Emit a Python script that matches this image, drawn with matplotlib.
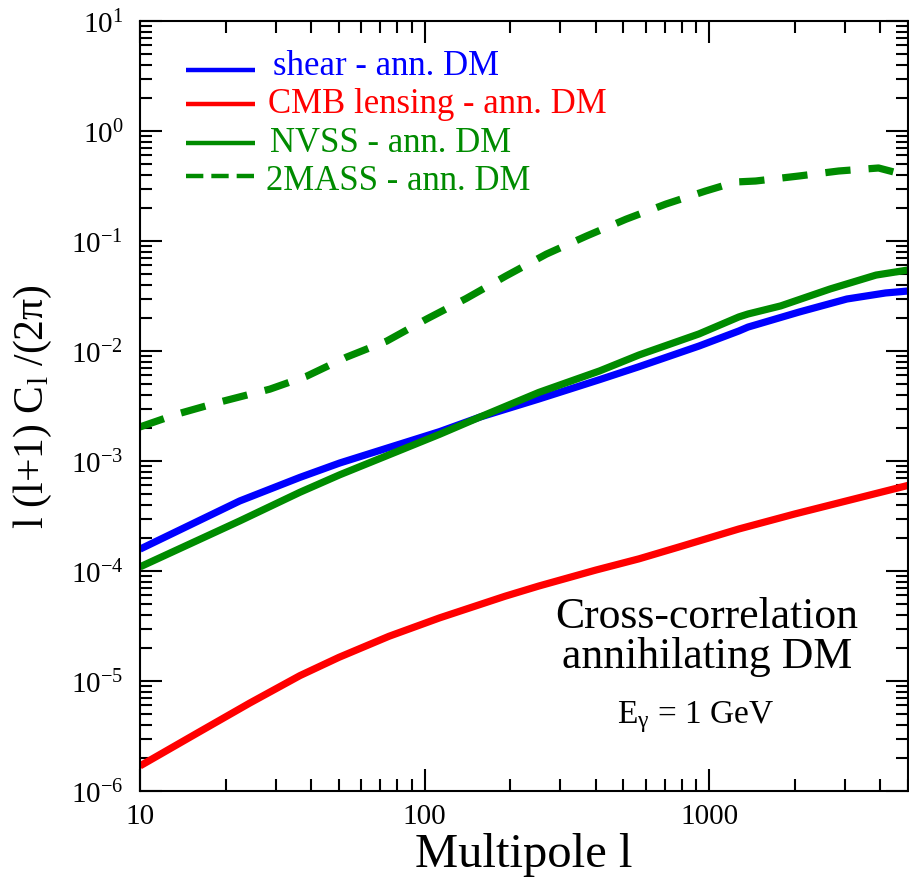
import math
import matplotlib
matplotlib.use("Agg")
import matplotlib.pyplot as plt
from matplotlib.lines import Line2D
from matplotlib.ticker import LogLocator, FixedLocator, FuncFormatter, NullFormatter

plt.rcParams['font.family'] = ['Liberation Serif', 'DejaVu Serif']
plt.rcParams['mathtext.fontset'] = 'custom'
plt.rcParams['mathtext.rm'] = 'Liberation Serif'
plt.rcParams['mathtext.it'] = 'Liberation Serif:italic'
plt.rcParams['mathtext.bf'] = 'Liberation Serif:bold'
plt.rcParams['axes.unicode_minus'] = False

# Cross-correlation angular power spectra, l(l+1)C_l/(2pi)
ell_shear = [10, 22.4, 36.5, 50.4, 113, 156, 252, 413, 567, 922, 1272, 1370, 2071, 3050, 4170, 5000]
cl_shear = [1.58e-4, 4.33e-4, 7.1e-4, 9.6e-4, 1.85e-3, 2.5e-3, 3.66e-3, 5.5e-3, 7.2e-3,
            1.11e-2, 1.52e-2, 1.65e-2, 2.26e-2, 2.97e-2, 3.37e-2, 3.51e-2]

ell_cmb = [10, 16.2, 24.3, 36.5, 50, 75, 113, 192, 252, 400, 567, 800, 1272, 2000, 3000, 5000]
cl_cmb = [1.69e-6, 3.46e-6, 6.3e-6, 1.12e-5, 1.64e-5, 2.55e-5, 3.75e-5, 5.9e-5, 7.3e-5,
          1.02e-4, 1.29e-4, 1.68e-4, 2.41e-4, 3.3e-4, 4.3e-4, 6.0e-4]

ell_nvss = [10, 22.4, 36.5, 50.4, 113, 156, 252, 413, 567, 922, 1272, 1370, 1785, 2660, 3860, 5000]
cl_nvss = [1.09e-4, 2.85e-4, 5.2e-4, 7.5e-4, 1.75e-3, 2.5e-3, 4.2e-3, 6.6e-3, 9.2e-3,
           1.43e-2, 2.04e-2, 2.17e-2, 2.57e-2, 3.66e-2, 4.9e-2, 5.45e-2]

ell_2mass = [10, 13.5, 19.1, 28.6, 38.5, 53.2, 73.6, 101.6, 140, 193, 268, 371, 511, 706,
             973, 1240, 1457, 2071, 2855, 3940, 4520, 5000]
cl_2mass = [2.04e-3, 2.67e-3, 3.44e-3, 4.5e-3, 5.9e-3, 8.8e-3, 1.23e-2, 1.95e-2, 3.0e-2,
            4.8e-2, 7.6e-2, 0.111, 0.158, 0.217, 0.285, 0.344, 0.351, 0.39, 0.433, 0.461,
            0.42, 0.38]

labels = ['shear - ann. DM', 'CMB lensing - ann. DM', 'NVSS - ann. DM', '2MASS - ann. DM']
x_ticks = [10, 100, 1000]
y_ticks = [1e-6, 1e-5, 1e-4, 1e-3, 1e-2, 1e-1, 1e0, 1e1]

BLUE, RED, GREEN = '#0000ff', '#ff0000', '#008b00'
LW = 5.2
DASH = (3.5, 2.5)

W, H = 909, 879
fig = plt.figure(figsize=(W / 100, H / 100), dpi=100)
ax = fig.add_axes([140 / W, 87 / H, 768 / W, 770 / H])

ax.plot(ell_shear, cl_shear, color=BLUE, lw=LW, solid_capstyle='butt', solid_joinstyle='round')
ax.plot(ell_cmb, cl_cmb, color=RED, lw=LW, solid_capstyle='butt', solid_joinstyle='round')
ax.plot(ell_nvss, cl_nvss, color=GREEN, lw=LW, solid_capstyle='butt', solid_joinstyle='round')
ax.plot(ell_2mass, cl_2mass, color=GREEN, lw=LW, dashes=DASH, dash_capstyle='butt')

ax.set_xscale('log')
ax.set_yscale('log')
ax.set_xlim(10, 5000)
ax.set_ylim(1e-6, 10)

ax.xaxis.set_major_locator(FixedLocator(x_ticks))
ax.xaxis.set_minor_locator(LogLocator(base=10, subs=range(2, 10), numticks=30))
ax.yaxis.set_major_locator(FixedLocator(y_ticks))
ax.yaxis.set_minor_locator(LogLocator(base=10, subs=range(2, 10), numticks=60))
ax.xaxis.set_major_formatter(FuncFormatter(lambda v, _: f"{v:g}"))
ax.yaxis.set_major_formatter(
    FuncFormatter(lambda v, _: r"$\mathregular{10^{%d}}$" % round(math.log10(v))))
ax.xaxis.set_minor_formatter(NullFormatter())
ax.yaxis.set_minor_formatter(NullFormatter())

for s in ax.spines.values():
    s.set_linewidth(1.5)
ax.tick_params(which='both', direction='in', top=True, right=True, width=1.5, colors='black')
ax.tick_params(which='major', length=15.8)
ax.tick_params(which='minor', length=8.6)
ax.tick_params(axis='x', which='major', labelsize=21, pad=9)
ax.tick_params(axis='y', which='major', labelsize=21, pad=12)

ax.set_xlabel('Multipole l', fontsize=35, labelpad=2)
ax.set_ylabel(r'l (l+1) C$_\mathregular{l}$ /(2π)', fontsize=30, labelpad=12)


def px_to_axes(x_px, y_px):
    return (x_px - 140) / 768, (792 - y_px) / 770


# legend: line sample + coloured label per row
legend_rows = [
    (labels[0], BLUE, None, 71, 75, 273),
    (labels[1], RED, None, 105, 113, 268),
    (labels[2], GREEN, None, 144, 152, 270),
    (labels[3], GREEN, (3.9, 1.8), 177, 190, 266),
]
for text, color, dash, y_line, y_base, x_text in legend_rows:
    x0, yl = px_to_axes(186, y_line)
    x1, _ = px_to_axes(255, y_line)
    kw = dict(dashes=dash, dash_capstyle='butt') if dash else dict(solid_capstyle='butt')
    ax.add_line(Line2D([x0, x1], [yl, yl], transform=ax.transAxes, color=color, lw=3.2, **kw))
    xt, yt = px_to_axes(x_text, y_base)
    ax.text(xt, yt, text, transform=ax.transAxes, color=color, fontsize=25,
            ha='left', va='baseline')

ax.text(0.738, 0.161, 'Cross-correlation\nannihilating DM', transform=ax.transAxes,
        ha='center', va='baseline', fontsize=31.5, linespacing=0.99)
ax.text(0.7227, 0.0896, r'E$_\mathregular{γ}$ = 1 GeV', transform=ax.transAxes,
        ha='center', va='baseline', fontsize=24)

fig.savefig('out.png', dpi=100)
